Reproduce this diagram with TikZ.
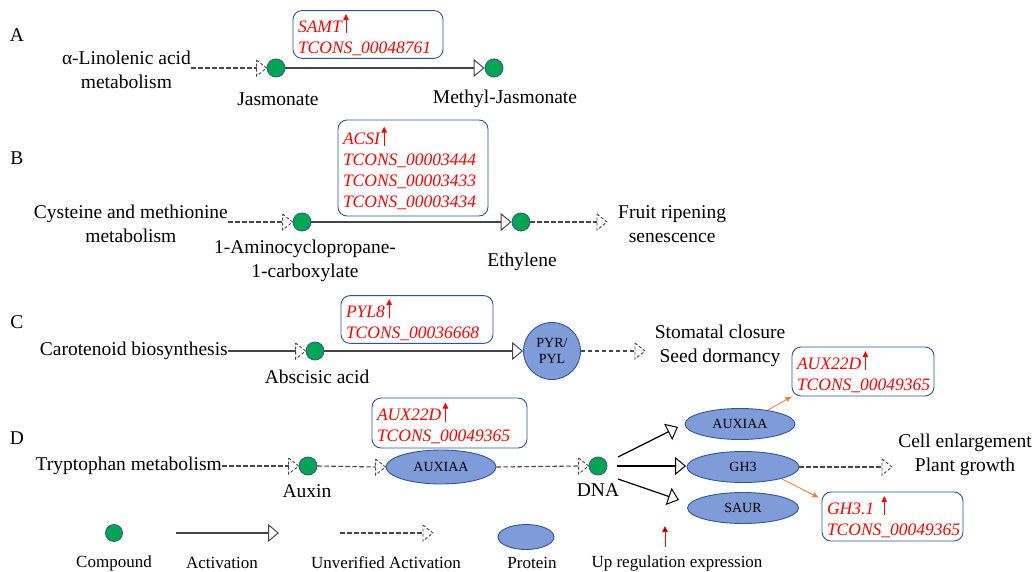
\documentclass[tikz,border=0pt]{standalone}
\usepackage{fontspec}
\setmainfont{Liberation Serif}
\usetikzlibrary{arrows.meta,calc,shapes.geometric}
\definecolor{cgreen}{RGB}{0,166,81}
\definecolor{cblue}{RGB}{47,85,151}
\definecolor{pfill}{RGB}{127,156,216}
\definecolor{lgray}{RGB}{70,70,70}
\definecolor{orng}{RGB}{237,125,49}
\newcommand\upar{\kern1.5pt\tikz[baseline=0pt]\draw[red,line width=0.9pt,-{Triangle[length=6pt,width=5.5pt]}] (0pt,-1pt)--(0pt,18pt);}
\newcommand\uact[2]{\draw[dline] (#1) -- ($(#2)+(-10,0)$);
  \draw[dhead] ($(#2)+(-10,-8)$) -- (#2) -- ($(#2)+(-10,8)$) -- cycle;}
\tikzset{
  compound/.style={circle, fill=cgreen, draw=cblue, line width=0.8pt, minimum size=18pt, inner sep=0pt},
  protein/.style={ellipse, fill=pfill, draw=cblue, line width=0.9pt, minimum width=110pt, minimum height=32pt, inner sep=0pt, font=\fontsize{14pt}{16pt}\selectfont, align=center},
  gbox/.style={draw=cblue, rounded corners=9pt, line width=0.9pt, text=red, align=left, inner xsep=5pt, inner ysep=3pt, font=\fontsize{17.5pt}{21pt}\selectfont\itshape},
  lbl/.style={font=\fontsize{19.5pt}{23.5pt}\selectfont, align=center, inner sep=0pt},
  leg/.style={font=\fontsize{17pt}{20pt}\selectfont, inner sep=0pt},
  act/.style={draw=lgray, line width=1.4pt, -{Triangle[open, length=11pt, width=18pt, line width=1pt]}},
  sline/.style={draw=lgray, line width=1.2pt},
  dline/.style={draw=lgray, line width=1.1pt, dash pattern=on 4.5pt off 2.5pt},
  dhead/.style={draw=lgray, line width=0.9pt, dash pattern=on 3pt off 2pt},
  dnaarr/.style={draw=black, line width=1.2pt, -{Triangle[open, length=11pt, width=18pt, line width=1pt]}},
  oarrow/.style={draw=orng, line width=0.8pt, -{Triangle[length=6pt,width=5pt]}},
  rarrow/.style={draw=red, line width=0.9pt, -{Triangle[length=6pt,width=5.5pt]}}
}
\begin{document}
\begin{tikzpicture}[x=1pt,y=-1pt]
\useasboundingbox[fill=white] (0,0) rectangle (1032,572);
% panel letters
\node[lbl] (pA) at (17,35) {A};
\node[lbl] (pB) at (17,158) {B};
\node[lbl] (pC) at (17,322) {C};
\node[lbl] (pD) at (17,438) {D};
% ---- A
\node[lbl, anchor=east] (alin) at (191,70) {α-Linolenic acid\\metabolism};
\node[compound] (J) at (276,68) {};
\node[compound] (MJ) at (494,68) {};
\node[lbl] (jt) at (278,99) {Jasmonate};
\node[lbl] (mjt) at (505,99) {Methyl-Jasmonate};
\node[gbox, minimum width=150pt, minimum height=45pt, text width=140pt] (bA) at (368,34.5) {SAMT\upar\\TCONS\_00048761};
\uact{alin.east |- J.west}{J.west}
\draw[act] (J.east) -- (MJ.west);
% ---- B
\node[lbl, anchor=east] (cys) at (228,224) {Cysteine and methionine\\metabolism};
\node[compound] (acc) at (302,222) {};
\node[compound] (eth) at (521,222) {};
\node[lbl, anchor=west] (frt) at (618,224) {Fruit ripening\\senescence};
\coordinate (frtip) at (607,222);
\node[lbl] (acct) at (305,261) {1-Aminocyclopropane-\\1-carboxylate};
\node[lbl] (etht) at (522,262) {Ethylene};
\node[gbox, minimum width=150pt, minimum height=96pt, text width=140pt] (bB) at (413,168) {ACSI\upar\\TCONS\_00003444\\TCONS\_00003433\\TCONS\_00003434};
\uact{cys.east |- acc.west}{acc.west}
\draw[act] (acc.east) -- (eth.west);
\uact{eth.east}{frtip}
% ---- C
\node[lbl, anchor=east] (car) at (228,351) {Carotenoid biosynthesis};
\node[compound] (aba) at (315,351) {};
\node[protein, minimum width=57pt, minimum height=57pt] (pyr) at (552,351) {PYR/\\PYL};
\coordinate (sttip) at (645,351);
\node[lbl] (st) at (720,346) {Stomatal closure\\Seed dormancy};
\node[lbl] (abat) at (317,377) {Abscisic acid};
\node[gbox, minimum width=152pt, minimum height=47pt, text width=142pt] (bC) at (417,319.5) {PYL8\upar\\TCONS\_00036668};
\draw[sline] (car.east) -- ($(aba.west)+(-10,0)$);
\draw[dhead] ($(aba.west)+(-10,-8)$) -- (aba.west) -- ($(aba.west)+(-10,8)$) -- cycle;
\draw[act] (aba.east) -- (pyr.west);
\uact{pyr.east}{sttip}
% ---- D
\node[lbl, anchor=east] (tryp) at (222,466) {Tryptophan metabolism};
\node[compound] (aux) at (308,466) {};
\node[protein, minimum height=34pt] (aux1) at (441,467) {AUXIAA};
\node[compound] (dna) at (598,466) {};
\node[protein, minimum height=31pt] (aux2) at (740,424) {AUXIAA};
\node[protein, minimum width=112pt, minimum height=31pt] (gh3) at (743,467) {GH3};
\node[protein, minimum width=111pt, minimum height=31pt] (saur) at (743,508) {SAUR};
\coordinate (cetip) at (892,467);
\node[lbl] (ce) at (965,455) {Cell enlargement\\Plant growth};
\node[lbl] (auxt) at (307,491) {Auxin};
\node[lbl] (dnat) at (598,490) {DNA};
\node[gbox, minimum width=155pt, minimum height=50pt, text width=145pt] (bD1) at (449.5,423) {AUX22D\upar\\TCONS\_00049365};
\node[gbox, minimum width=142pt, minimum height=49pt, text width=132pt] (bD2) at (863,371.5) {AUX22D\upar\\TCONS\_00049365};
\node[gbox, minimum width=141pt, minimum height=49pt, text width=131pt] (bD3) at (892.5,516.5) {GH3.1 \upar\\TCONS\_00049365};
\uact{tryp.east}{aux.west}
\uact{aux.east}{aux1.west}
\uact{aux1.east}{dna.west}
\coordinate (u1) at (618,457); \coordinate (u2) at (678,427);
\coordinate (m1) at (617,466); \coordinate (m2) at (686,466);
\coordinate (l1) at (618,479); \coordinate (l2) at (679,500);
\draw[dnaarr] (u1) -- (u2);
\draw[dnaarr, line width=2.4pt] (m1) -- (m2);
\draw[dnaarr] (l1) -- (l2);
\uact{gh3.east}{cetip}
\draw[oarrow] ($(aux2.north)+(28,2)$) -- (bD2.south west);
\draw[oarrow] ($(gh3.south)+(39,-4)$) -- ($(bD3.north west)+(-3,6)$);
% ---- legend
\node[compound, minimum size=17pt] (lc) at (114,533) {};
\coordinate (la1) at (176,533); \coordinate (la2) at (279,533);
\draw[act] (la1) -- (la2);
\coordinate (lu1) at (340,533); \coordinate (lu2) at (433,533);
\uact{lu1}{lu2}
\node[protein, minimum width=56pt, minimum height=25pt] (lp) at (526,537) {};
\coordinate (lr1) at (665,547); \coordinate (lr2) at (665,526);
\draw[rarrow] (lr1) -- (lr2);
\node[leg] (lct) at (114,563) {Compound};
\node[leg] (lat) at (222,563) {Activation};
\node[leg] (lut) at (386,563) {Unverified Activation};
\node[leg] (lpt) at (532,563) {Protein};
\node[leg] (lrt) at (677,563) {Up regulation expression};
\end{tikzpicture}
\end{document}
